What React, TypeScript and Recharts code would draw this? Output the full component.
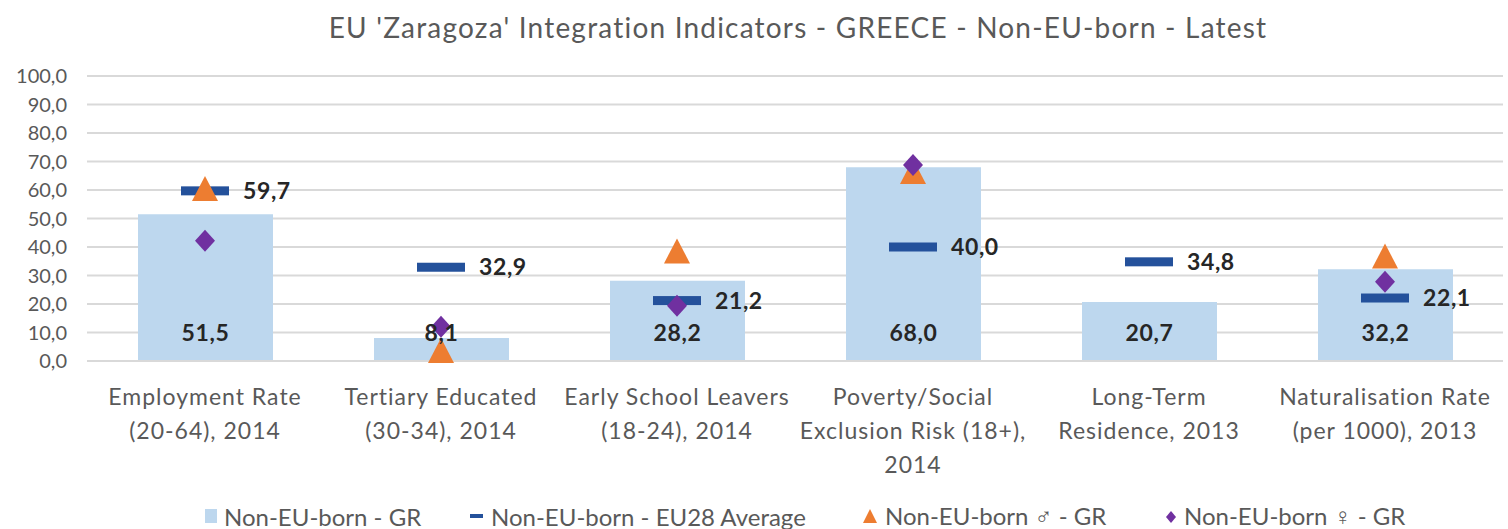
import React from 'react';
import { ComposedChart, Bar, Scatter, XAxis, YAxis, CartesianGrid, Legend, LabelList } from 'recharts';

const categories = [
  'Employment Rate\n(20-64), 2014',
  'Tertiary Educated\n(30-34), 2014',
  'Early School Leavers\n(18-24), 2014',
  'Poverty/Social\nExclusion Risk (18+),\n2014',
  'Long-Term\nResidence, 2013',
  'Naturalisation Rate\n(per 1000), 2013',
];
const nonEuBornGR = [51.5, 8.1, 28.2, 68.0, 20.7, 32.2];
const eu28Average = [59.7, 32.9, 21.2, 40.0, 34.8, 22.1];
const maleGR: (number | null)[] = [60.0, 3.2, 38.1, 66.0, null, 36.3];
const femaleGR: (number | null)[] = [42.2, 12.0, 19.4, 68.8, null, 27.8];
const yTicks = [0, 10, 20, 30, 40, 50, 60, 70, 80, 90, 100];

const seriesNames = {
  gr: 'Non-EU-born - GR',
  avg: 'Non-EU-born - EU28 Average',
  male: 'Non-EU-born \u2642 - GR',
  female: 'Non-EU-born \u2640 - GR',
};

const data = categories.map((c, i) => ({
  cat: c,
  gr: nonEuBornGR[i],
  avg: eu28Average[i],
  male: maleGR[i],
  female: femaleGR[i],
}));

const FONT = 'Lato, "Open Sans", sans-serif';
const GREY = '#595959';
const DARK = '#262626';
const BAR = '#BDD7EE';
const NAVY = '#24519B';
const ORANGE = '#ED7D31';
const PURPLE = '#7030A0';

const fmt = (v: number) => v.toFixed(1).replace('.', ',');

const XTick = (props: any) => {
  const { x, y, payload } = props;
  const lines = String(payload.value).split('\n');
  return (
    <g transform={`translate(${x},${y})`}>
      {lines.map((l, i) => (
        <text key={i} x={0} y={36 + i * 34} textAnchor="middle" fill={GREY} fontSize={23} letterSpacing={1} fontFamily={FONT}>
          {l}
        </text>
      ))}
    </g>
  );
};

const BarLabel = (props: any) => {
  const { x, y, width, height, value } = props;
  const bottom = y + height;
  return (
    <text x={x + width / 2} y={bottom - 20} textAnchor="middle" fill={DARK} fontSize={23} letterSpacing={0.6} fontWeight={700} fontFamily={FONT}>
      {fmt(value)}
    </text>
  );
};

const AvgShape = (props: any) => {
  const { cx, cy, payload } = props;
  if (payload == null || payload.avg == null || !isFinite(cy)) return <g />;
  return (
    <g>
      <rect x={cx - 24} y={cy - 4.5} width={48} height={9} fill={NAVY} />
      <text x={cx + 38} y={cy + 8} fill={DARK} fontSize={23} letterSpacing={0.6} fontWeight={700} fontFamily={FONT}>
        {fmt(payload.avg)}
      </text>
    </g>
  );
};

const TriShape = (props: any) => {
  const { cx, cy, payload } = props;
  if (payload == null || payload.male == null || !isFinite(cy)) return <g />;
  return <polygon points={`${cx},${cy - 14} ${cx - 13},${cy + 11} ${cx + 13},${cy + 11}`} fill={ORANGE} />;
};

const DiaShape = (props: any) => {
  const { cx, cy, payload } = props;
  if (payload == null || payload.female == null || !isFinite(cy)) return <g />;
  return <polygon points={`${cx},${cy - 11} ${cx + 10},${cy} ${cx},${cy + 11} ${cx - 10},${cy}`} fill={PURPLE} />;
};

const LegendContent = () => {
  const items = [
    { key: 'gr', left: 205, marker: <svg width={12} height={16}><rect x={0} y={1} width={12} height={14} fill={BAR} /></svg> },
    { key: 'avg', left: 470, marker: <svg width={14} height={16}><rect x={0} y={6} width={13} height={4} fill={NAVY} /></svg> },
    { key: 'male', left: 862, marker: <svg width={16} height={16}><polygon points="8,1 1,15 15,15" fill={ORANGE} /></svg> },
    { key: 'female', left: 1165, marker: <svg width={12} height={16}><polygon points="6,3 11,9 6,15 1,9" fill={PURPLE} /></svg> },
  ];
  return (
    <div style={{ position: 'relative', width: 1508, height: 40, fontFamily: FONT, fontSize: 24, color: GREY }}>
      {items.map((it) => (
        <div key={it.key} style={{ position: 'absolute', left: it.left, top: 15, height: 24, display: 'flex', alignItems: 'center', whiteSpace: 'nowrap' }}>
          {it.marker}
          <span style={{ marginLeft: 7 }}>{(seriesNames as any)[it.key]}</span>
        </div>
      ))}
    </div>
  );
};

export default function App() {
  return (
    <div style={{ position: 'absolute', left: 0, top: 0, width: 1508, height: 529, background: '#fff' }}>
      <div style={{ position: 'absolute', left: 44, top: 9, width: 1508, textAlign: 'center', fontFamily: FONT, fontSize: 28, letterSpacing: 1.2, color: GREY, lineHeight: '36px', whiteSpace: 'nowrap' }}>
        EU 'Zaragoza' Integration Indicators - GREECE - Non-EU-born - Latest
      </div>
      <ComposedChart width={1508} height={529} data={data} margin={{ top: 76, right: 5, left: 0, bottom: 0 }} barCategoryGap="21%">
        <CartesianGrid vertical={false} stroke="#D9D9D9" strokeWidth={2} />
        <XAxis dataKey="cat" tick={<XTick />} tickLine={false} axisLine={{ stroke: '#D9D9D9', strokeWidth: 2 }} interval={0} height={128} />
        <YAxis domain={[0, 100]} ticks={yTicks} tickFormatter={fmt} width={87} axisLine={false} tickLine={false}
          tick={{ fill: GREY, fontSize: 20, fontFamily: FONT }} tickMargin={14} />
        <Legend verticalAlign="bottom" align="left" content={<LegendContent />} wrapperStyle={{ height: 40, left: 0, width: 1508 }} />
        <Bar dataKey="gr" name={seriesNames.gr} fill={BAR} barSize={135} isAnimationActive={false}>
          <LabelList dataKey="gr" content={<BarLabel />} />
        </Bar>
        <Scatter dataKey="avg" name={seriesNames.avg} shape={<AvgShape />} isAnimationActive={false} />
        <Scatter dataKey="male" name={seriesNames.male} shape={<TriShape />} isAnimationActive={false} />
        <Scatter dataKey="female" name={seriesNames.female} shape={<DiaShape />} isAnimationActive={false} />
      </ComposedChart>
    </div>
  );
}
